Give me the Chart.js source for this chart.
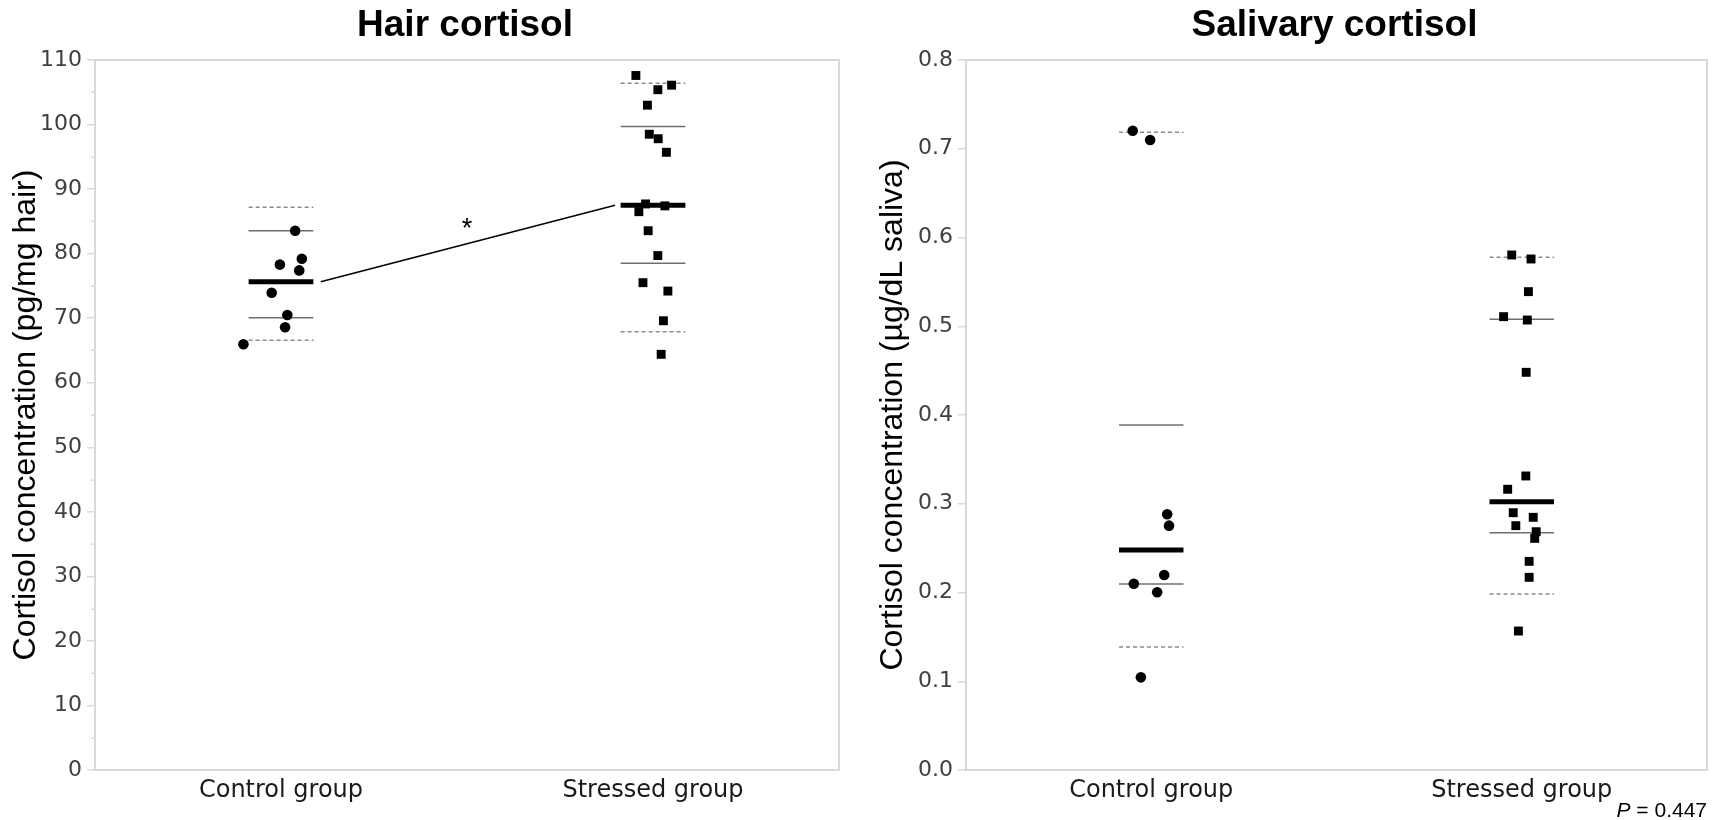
<!DOCTYPE html>
<html>
<head>
<meta charset="utf-8">
<script src="https://cdn.jsdelivr.net/npm/chart.js@4.4.1/dist/chart.umd.min.js"></script>
<style>
  html, body { margin: 0; padding: 0; background: #ffffff; }
  #wrap { position: relative; width: 1715px; height: 820px; overflow: hidden; }
  canvas { position: absolute; top: 0; }
  #c1 { left: 0; }
  #c2 { left: 860px; }
</style>
</head>
<body>
<div id="wrap">
  <canvas id="c1" width="860" height="820"></canvas>
  <canvas id="c2" width="855" height="820"></canvas>
</div>
<script>
// ---------------- DATA ----------------
const categories = ['Control group', 'Stressed group'];

const hairTicks = [0, 10, 20, 30, 40, 50, 60, 70, 80, 90, 100, 110];
const hairMinorTicks = [5, 15, 25, 35, 45, 55, 65, 75, 85, 95, 105];
const salivaTicks = [0, 0.1, 0.2, 0.3, 0.4, 0.5, 0.6, 0.7, 0.8];

// Hair cortisol (pg/mg hair)
const hairControlValues = [83.55, 78.3, 79.2, 77.4, 73.95, 70.5, 68.6, 65.95];
const hairControlJitter = [0.038, -0.003, 0.056, 0.049, -0.025, 0.017, 0.011, -0.101];
const hairStressedValues = [107.6, 106.1, 105.4, 103.0, 98.5, 97.8, 95.7, 87.7, 86.5, 87.4, 83.55, 79.7, 75.5, 74.2, 69.6, 64.4];
const hairStressedJitter = [-0.046, 0.050, 0.013, -0.015, -0.010, 0.014, 0.036, -0.020, -0.038, 0.032, -0.013, 0.013, -0.027, 0.040, 0.028, 0.022];
// [upper dashed, upper solid, mean, lower solid, lower dashed]
const hairControlStats = [87.2, 83.55, 75.65, 70.08, 66.6];
const hairStressedStats = [106.4, 99.7, 87.5, 78.5, 67.9];
const hairSignificance = '*';

// Salivary cortisol (µg/dL saliva)
const salivaControlValues = [0.7203, 0.7099, 0.2881, 0.2753, 0.2197, 0.2099, 0.2002, 0.1044];
const salivaControlJitter = [-0.050, -0.003, 0.043, 0.048, 0.035, -0.047, 0.016, -0.028];
const salivaStressedValues = [0.5803, 0.5758, 0.5390, 0.5108, 0.5070, 0.4481, 0.3313, 0.3163, 0.2899, 0.2847, 0.2753, 0.2685, 0.2610, 0.2351, 0.2171, 0.1566];
const salivaStressedJitter = [-0.027, 0.025, 0.018, -0.049, 0.015, 0.012, 0.011, -0.038, -0.023, 0.031, -0.016, 0.039, 0.035, 0.020, 0.020, -0.009];
const salivaControlStats = [0.7185, 0.3887, 0.2479, 0.2096, 0.1386];
const salivaStressedStats = [0.5777, 0.5078, 0.3023, 0.2674, 0.1983];
const salivaPText = ' = 0.447';

// ---------------- HELPERS ----------------
const HALF = 0.087;          // half-width of summary bars (category units)
const GRID = '#d9d9d9';
const statStyles = [
  { w: 1.5, c: '#8c8c8c', dash: [4, 3] },
  { w: 1.5, c: '#6f6f6f', dash: [] },
  { w: 5,   c: '#000000', dash: [] },
  { w: 1.5, c: '#6f6f6f', dash: [] },
  { w: 1.5, c: '#8c8c8c', dash: [4, 3] }
];

function pointsDataset(values, jitter, center, style, radius) {
  return {
    type: 'scatter',
    data: values.map((v, i) => ({ x: center + jitter[i], y: v })),
    pointStyle: style,
    pointRadius: radius,
    pointHoverRadius: radius,
    pointBackgroundColor: '#000',
    pointBorderWidth: 0,
    showLine: false,
    order: 0
  };
}
function statDatasets(stats, center) {
  return stats.map((v, i) => ({
    type: 'scatter',
    data: [{ x: center - HALF, y: v }, { x: center + HALF, y: v }],
    showLine: true,
    borderColor: statStyles[i].c,
    borderWidth: statStyles[i].w,
    borderDash: statStyles[i].dash,
    borderCapStyle: 'butt',
    pointRadius: 0,
    order: 1
  }));
}

const decorPlugin = {
  id: 'panelDecor',
  afterDraw(chart, args, opts) {
    const ctx = chart.ctx;
    const a = chart.chartArea;
    const ys = chart.scales.y, xs = chart.scales.x;
    ctx.save();
    // top and right borders of the box
    ctx.strokeStyle = GRID;
    ctx.lineWidth = 2;
    ctx.beginPath();
    ctx.moveTo(a.left, a.top); ctx.lineTo(a.right, a.top); ctx.lineTo(a.right, a.bottom);
    ctx.stroke();
    // minor ticks
    if (opts.minor) {
      ctx.lineWidth = 1.5;
      ctx.beginPath();
      opts.minor.forEach(v => {
        const y = Math.round(ys.getPixelForValue(v)) + 0.25;
        ctx.moveTo(a.left - 4, y); ctx.lineTo(a.left, y);
      });
      ctx.stroke();
    }
    // title
    ctx.fillStyle = '#000';
    ctx.font = 'bold 37px "Liberation Sans", Arial, sans-serif';
    ctx.textAlign = 'center';
    ctx.textBaseline = 'alphabetic';
    ctx.fillText(opts.title, (a.left + a.right) / 2 - 2, 36);
    // significance mark
    if (opts.star) {
      ctx.font = '27px "Liberation Sans", Arial, sans-serif';
      ctx.textBaseline = 'middle';
      ctx.fillText(opts.star.text, xs.getPixelForValue(opts.star.x), ys.getPixelForValue(opts.star.y) + 6);
    }
    // P value
    if (opts.p) {
      ctx.textBaseline = 'alphabetic';
      ctx.textAlign = 'left';
      ctx.font = '21px "Liberation Sans", Arial, sans-serif';
      const restW = ctx.measureText(opts.p).width;
      ctx.font = 'italic 21px "Liberation Sans", Arial, sans-serif';
      const pW = ctx.measureText('P').width;
      const x0 = chart.width - 8 - restW - pW;
      ctx.fillText('P', x0, 817);
      ctx.font = '21px "Liberation Sans", Arial, sans-serif';
      ctx.fillText(opts.p, x0 + pW, 817);
    }
    ctx.restore();
  }
};

function makeChart(id, cfg) {
  return new Chart(document.getElementById(id), {
    type: 'scatter',
    data: { datasets: cfg.datasets },
    plugins: [decorPlugin],
    options: {
      responsive: false,
      animation: false,
      devicePixelRatio: 1,
      layout: { padding: { left: 0, right: cfg.padRight, top: 60, bottom: 10 } },
      plugins: {
        legend: { display: false },
        tooltip: { enabled: false },
        panelDecor: cfg.decor
      },
      scales: {
        x: {
          type: 'linear',
          min: 0.5, max: 2.5,
          afterBuildTicks: s => { s.ticks = categories.map((c, i) => ({ value: i + 1 })); },
          afterFit: s => { s.height = 40; },
          grid: { display: false, drawTicks: false },
          border: { display: true, color: GRID, width: 2 },
          ticks: {
            padding: 6,
            color: '#1a1a1a',
            font: { family: '"DejaVu Sans", Verdana, sans-serif', size: 24 },
            callback: v => categories[Math.round(v) - 1]
          }
        },
        y: {
          type: 'linear',
          min: cfg.yTicks[0], max: cfg.yTicks[cfg.yTicks.length - 1],
          afterBuildTicks: s => { s.ticks = cfg.yTicks.map(v => ({ value: v })); },
          afterFit: s => { s.width = cfg.yWidth; },
          grid: { drawOnChartArea: false, drawTicks: true, tickLength: 8, color: GRID, tickColor: GRID, lineWidth: 1.5 },
          border: { display: true, color: GRID, width: 2 },
          ticks: {
            padding: 5,
            color: '#404040',
            font: { family: '"DejaVu Sans", Verdana, sans-serif', size: 22 },
            callback: cfg.yFormat
          },
          title: {
            display: true,
            text: cfg.yTitle,
            color: '#000',
            padding: { top: cfg.titlePad, bottom: 0 },
            font: { family: '"Liberation Sans", Arial, sans-serif', size: 32 }
          }
        }
      }
    }
  });
}

// ---------------- CHARTS ----------------
makeChart('c1', {
  yTicks: hairTicks,
  yWidth: 95,
  padRight: 21,
  titlePad: 7,
  yTitle: 'Cortisol concentration (pg/mg hair)',
  yFormat: v => String(v),
  decor: { title: 'Hair cortisol', minor: hairMinorTicks, star: { text: hairSignificance, x: 1.5, y: 84.6 } },
  datasets: [
    pointsDataset(hairControlValues, hairControlJitter, 1, 'circle', 5.3),
    pointsDataset(hairStressedValues, hairStressedJitter, 2, 'rect', 6.3),
    ...statDatasets(hairControlStats, 1),
    ...statDatasets(hairStressedStats, 2),
    {
      type: 'scatter',
      data: [{ x: 1 + HALF + 0.02, y: hairControlStats[2] }, { x: 2 - HALF - 0.015, y: hairStressedStats[2] }],
      showLine: true, borderColor: '#000', borderWidth: 1.5, pointRadius: 0, order: 2
    }
  ]
});

makeChart('c2', {
  yTicks: salivaTicks,
  yWidth: 106,
  padRight: 8,
  titlePad: 14,
  yTitle: 'Cortisol concentration (µg/dL saliva)',
  yFormat: v => Number(v).toFixed(1),
  decor: { title: 'Salivary cortisol', minor: null, p: salivaPText },
  datasets: [
    pointsDataset(salivaControlValues, salivaControlJitter, 1, 'circle', 5.3),
    pointsDataset(salivaStressedValues, salivaStressedJitter, 2, 'rect', 6.3),
    ...statDatasets(salivaControlStats, 1),
    ...statDatasets(salivaStressedStats, 2)
  ]
});
</script>
</body>
</html>
